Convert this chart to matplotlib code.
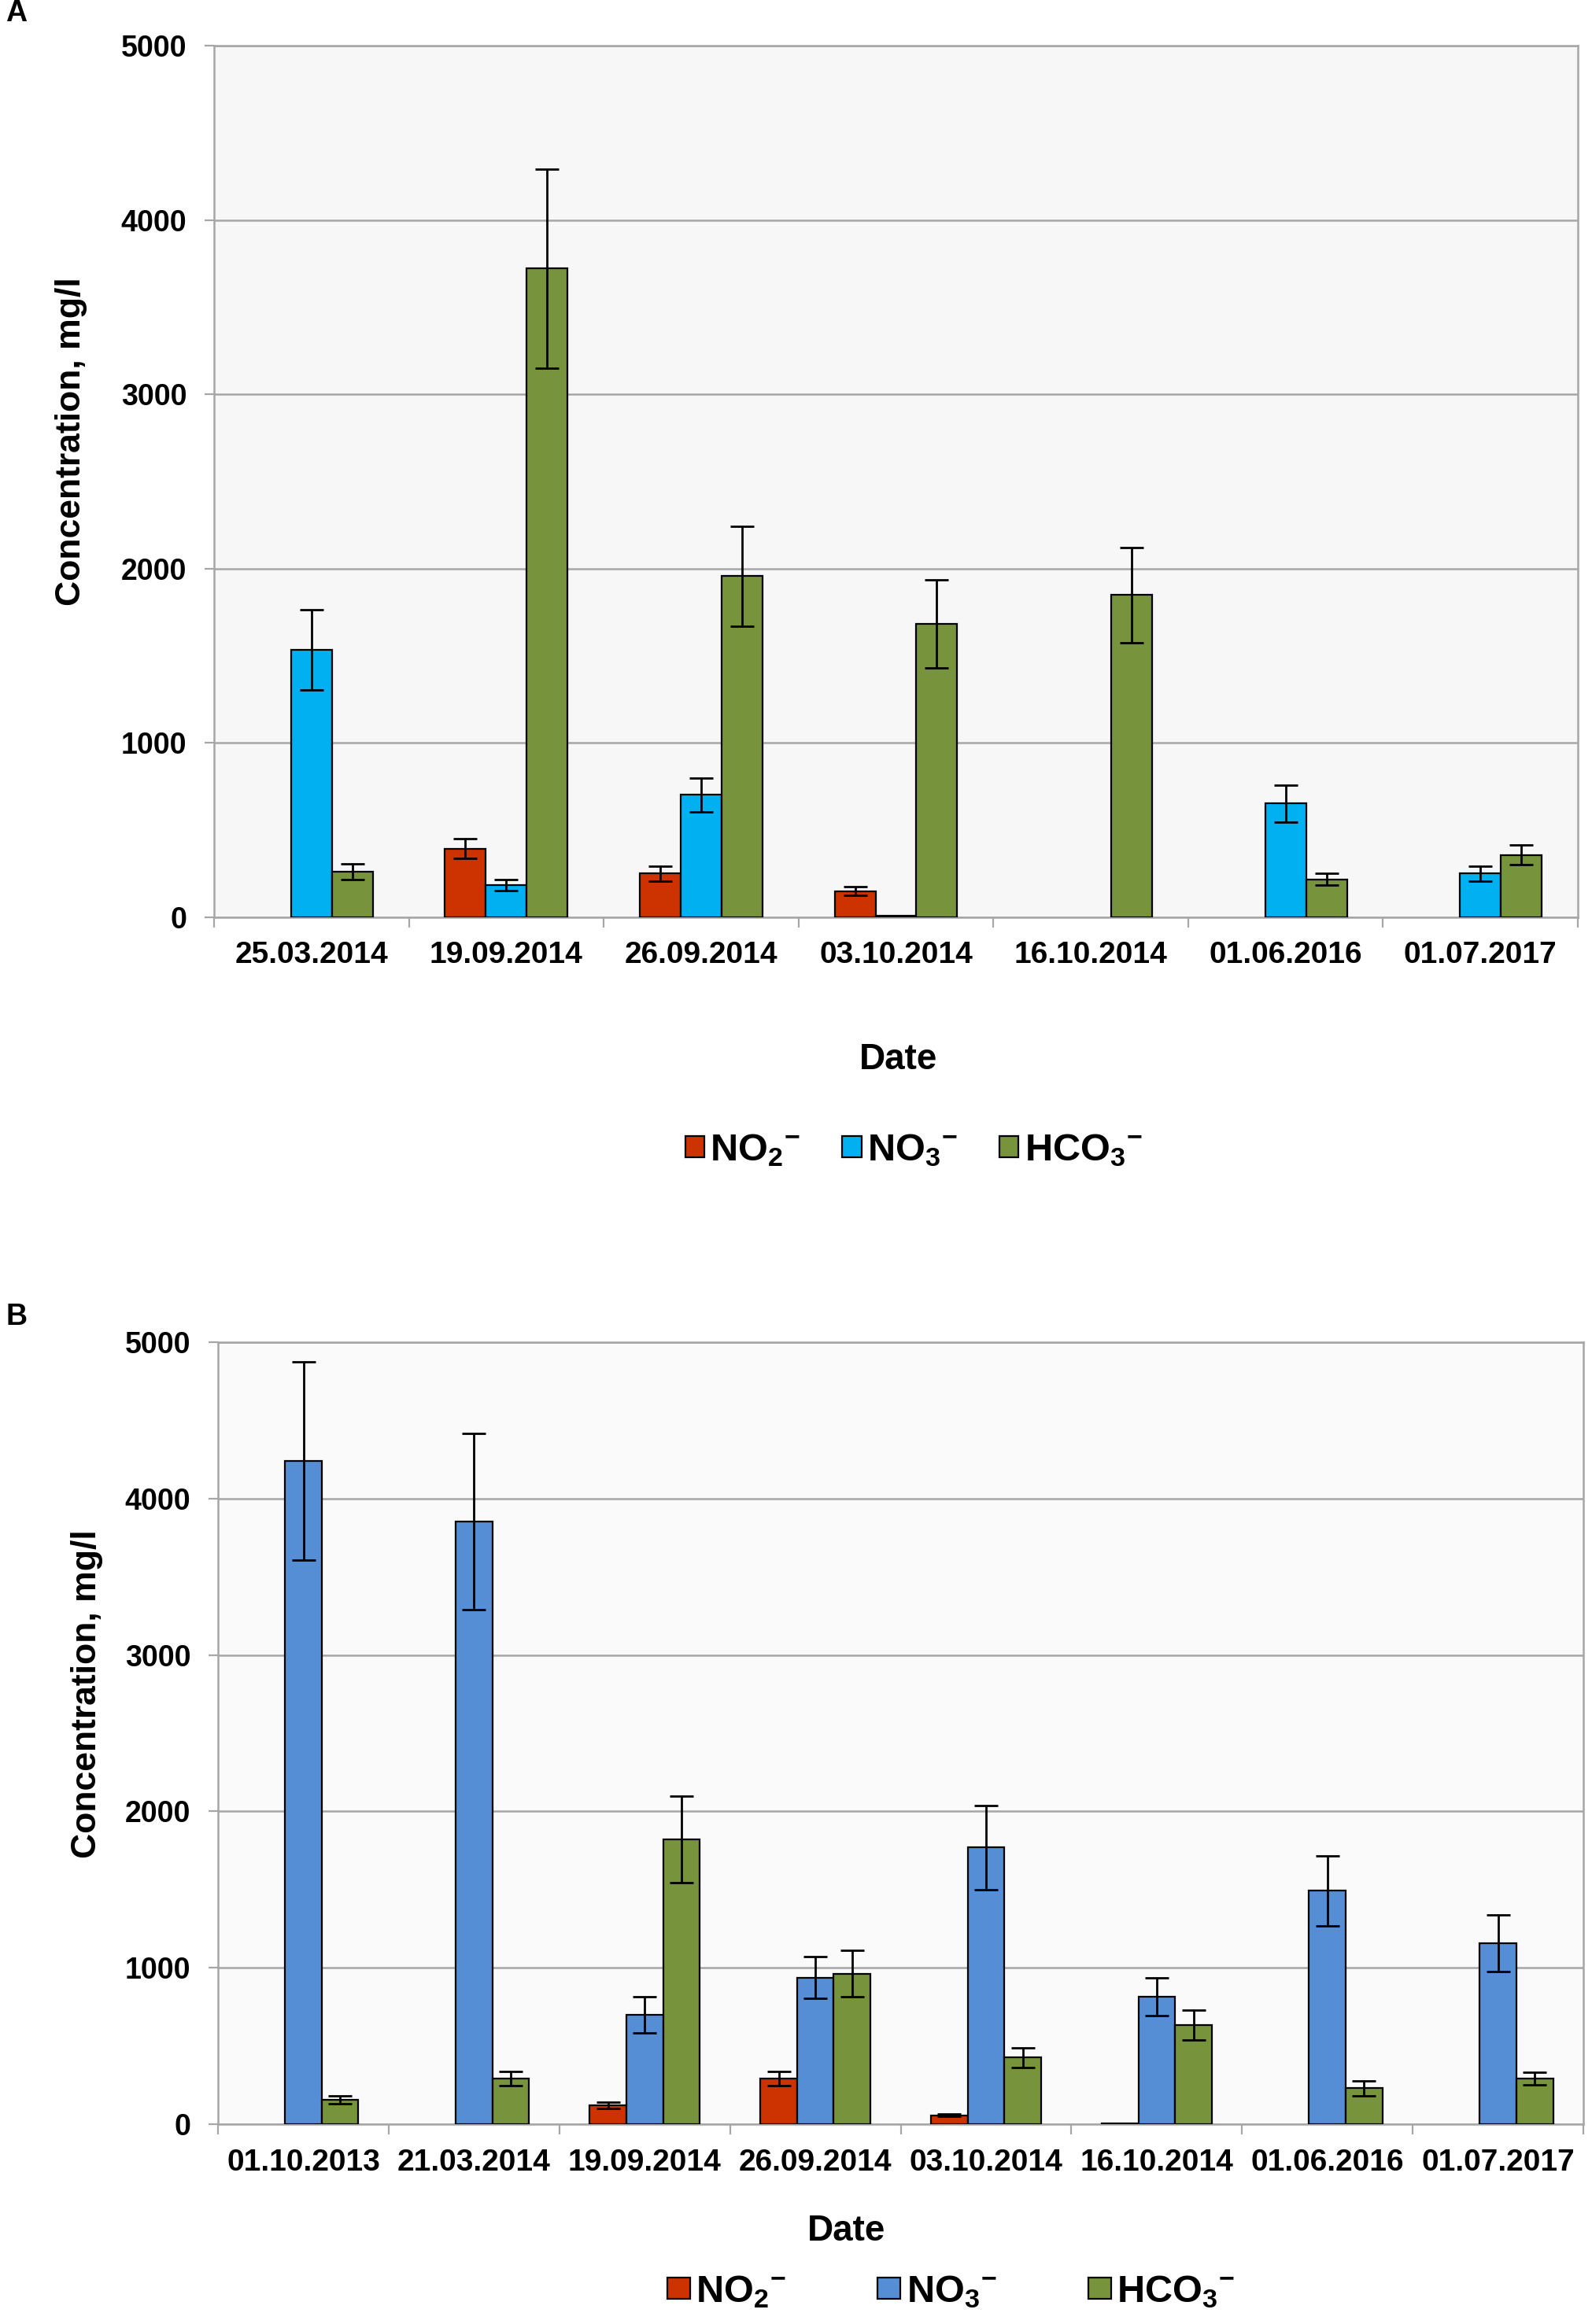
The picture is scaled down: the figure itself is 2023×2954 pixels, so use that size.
import numpy as np
import matplotlib
matplotlib.use("Agg")
import matplotlib.pyplot as plt
from matplotlib.ticker import FixedLocator, NullFormatter

plt.rcParams['font.family'] = ['Liberation Sans', 'DejaVu Sans']
plt.rcParams['font.weight'] = 'bold'
plt.rcParams['mathtext.fontset'] = 'custom'
plt.rcParams['mathtext.rm'] = 'Liberation Sans:bold'
plt.rcParams['mathtext.bf'] = 'Liberation Sans:bold'
plt.rcParams['mathtext.it'] = 'Liberation Sans:bold'

# ---------------- Data: panel A ----------------
dates_a = ["25.03.2014", "19.09.2014", "26.09.2014", "03.10.2014",
           "16.10.2014", "01.06.2016", "01.07.2017"]
no2_a = [0, 394, 251, 150, 0, 0, 0]
no2_a_err = [0, 57, 43, 25, 0, 0, 0]
no3_a = [1533, 186, 702, 10, 0, 652, 251]
no3_a_err = [230, 32, 97, 0, 0, 104, 43]
hco3_a = [261, 3721, 1956, 1683, 1848, 218, 358]
hco3_a_err = [45, 570, 286, 251, 272, 33, 57]

# ---------------- Data: panel B ----------------
dates_b = ["01.10.2013", "21.03.2014", "19.09.2014", "26.09.2014",
           "03.10.2014", "16.10.2014", "01.06.2016", "01.07.2017"]
no2_b = [0, 0, 121, 291, 56, 5, 0, 0]
no2_b_err = [0, 0, 22, 47, 8, 0, 0, 0]
no3_b = [4241, 3851, 698, 937, 1769, 815, 1492, 1158]
no3_b_err = [633, 564, 117, 134, 269, 122, 225, 182]
hco3_b = [156, 291, 1821, 963, 425, 633, 230, 291]
hco3_b_err = [26, 47, 278, 147, 61, 96, 48, 39]

yticks = [0, 1000, 2000, 3000, 4000, 5000]
series_labels = [r'$\mathbf{NO_2{}^{-}}$', r'$\mathbf{NO_3{}^{-}}$', r'$\mathbf{HCO_3{}^{-}}$']

RED = '#CC3300'
CYAN = '#00B0F0'
BLUE = '#558ED5'
GREEN = '#77933C'
GRID = '#A6A6A6'

fig = plt.figure(figsize=(10.12, 14.77), dpi=200)

def panel(rect, dates, vals, errs, colors, width, bg):
    ax = fig.add_axes(rect)
    ax.set_facecolor(bg)
    n = len(dates)
    x = np.arange(n)
    offs = [-width, 0, width]
    handles = []
    for v, e, c, o in zip(vals, errs, colors, offs):
        v = np.array(v, float)
        e = np.array(e, float)
        nz = v > 0
        b = ax.bar((x + o)[nz], v[nz], width=width, color=c, edgecolor='black',
                   linewidth=0.8, zorder=3)
        handles.append(b)
        m = e > 0
        ax.errorbar((x + o)[m], v[m], yerr=e[m], fmt='none', ecolor='black',
                    elinewidth=1.0, capsize=5.5, capthick=1.0, zorder=4)
    ax.set_xlim(-0.5, n - 0.5)
    ax.set_ylim(0, 5000)
    ax.set_yticks(yticks)
    ax.set_yticklabels([str(t) for t in yticks], fontsize=13.5, fontweight='bold')
    ax.set_xticks(x)
    ax.set_xticklabels(dates, fontsize=14, fontweight='bold')
    ax.xaxis.set_minor_locator(FixedLocator(np.arange(n + 1) - 0.5))
    ax.xaxis.set_minor_formatter(NullFormatter())
    ax.tick_params(axis='x', which='major', length=0, pad=11)
    ax.tick_params(axis='x', which='minor', length=4.5, width=0.8, color=GRID)
    ax.tick_params(axis='y', which='major', length=4.5, width=0.8, color=GRID, pad=8)
    ax.grid(axis='y', color=GRID, linewidth=0.9, zorder=0)
    ax.set_axisbelow(True)
    for s in ax.spines.values():
        s.set_color(GRID)
        s.set_linewidth(0.9)
    return ax, handles

axA, hA = panel([0.1344, 0.6053, 0.8562, 0.3751], dates_a,
                [no2_a, no3_a, hco3_a], [no2_a_err, no3_a_err, hco3_a_err],
                [RED, CYAN, GREEN], 0.21, '#F7F7F7')
axB, hB = panel([0.1369, 0.0860, 0.8572, 0.3365], dates_b,
                [no2_b, no3_b, hco3_b], [no2_b_err, no3_b_err, hco3_b_err],
                [RED, BLUE, GREEN], 0.215, '#FAFAFA')

# Panel letters
fig.text(0.0035, 0.9941, 'A', fontsize=13.5, fontweight='bold', ha='left', va='center')
fig.text(0.0035, 0.4333, 'B', fontsize=13.5, fontweight='bold', ha='left', va='center')

# Axis labels
fig.text(0.0445, 0.810, 'Concentration, mg/l', rotation=90, fontsize=16,
         fontweight='bold', ha='center', va='center')
fig.text(0.0548, 0.2712, 'Concentration, mg/l', rotation=90, fontsize=16,
         fontweight='bold', ha='center', va='center')
fig.text(0.5642, 0.5440, 'Date', fontsize=16.5, fontweight='bold', ha='center', va='center')
fig.text(0.5316, 0.0399, 'Date', fontsize=16.5, fontweight='bold', ha='center', va='center')

# Legends
fig.legend(hA, series_labels, loc='center', bbox_to_anchor=(0.5736, 0.5051),
           ncol=3, frameon=False, fontsize=17.5, handlelength=0.5, handleheight=0.5,
           handletextpad=0.15, columnspacing=1.1)
fig.legend(hB, series_labels, loc='center', bbox_to_anchor=(0.597, 0.0139),
           ncol=3, frameon=False, fontsize=17.5, handlelength=0.6, handleheight=0.5,
           handletextpad=0.15, columnspacing=2.4)

fig.savefig('out.png', dpi=200)
